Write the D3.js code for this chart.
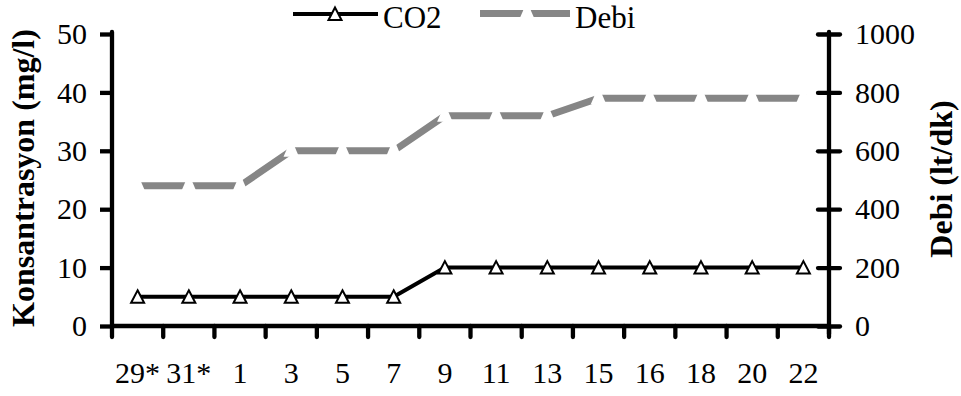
<!DOCTYPE html>
<html>
<head>
<meta charset="utf-8">
<script src="https://cdn.jsdelivr.net/npm/d3@7"></script>
<style>
  html, body { margin: 0; padding: 0; background: #fff; }
  svg { display: block; }
  text { font-family: "Liberation Serif", "Times New Roman", serif; fill: #000; }
</style>
</head>
<body>
<svg id="chart" width="961" height="396"></svg>
<script>
// Sampling days (x axis)
const days = ["29*", "31*", "1", "3", "5", "7", "9", "11", "13", "15", "16", "18", "20", "22"];
// CO2 concentration, mg/l (left axis)
const co2 = [5, 5, 5, 5, 5, 5, 10, 10, 10, 10, 10, 10, 10, 10];
// Flow rate, lt/dk (right axis)
const debi = [480, 480, 480, 600, 600, 600, 720, 720, 720, 780, 780, 780, 780, 780];
// Axis ticks
const leftTicks = [0, 10, 20, 30, 40, 50];
const rightTicks = [0, 200, 400, 600, 800, 1000];

const svg = d3.select("#chart");
const plotLeft = 112, plotRight = 829, plotTop = 34, plotBottom = 326;

const x = d3.scaleBand().domain(days).range([plotLeft, plotRight]).padding(0);
const yL = d3.scaleLinear().domain([0, 50]).range([plotBottom, plotTop]);
const yR = d3.scaleLinear().domain([0, 1000]).range([plotBottom, plotTop]);
const cx = d => x(d) + x.bandwidth() / 2;

const GRAY = "#868686";
const AXIS_W = 4.3;

// Upward triangle marker for CO2
const triPath = "M0,-6.5L6.5,6L-6.5,6Z";
// White knock-out triangle that opens gaps in the flow line at each point
const gapPath = "M0,-12L7.75,6L-7.75,6Z";

// ---- Flow (Debi) line ----
const lineR = d3.line().x((d, i) => cx(days[i])).y(d => yR(d));
svg.append("path")
  .datum(debi)
  .attr("d", lineR)
  .attr("fill", "none")
  .attr("stroke", GRAY)
  .attr("stroke-width", 7)
  .attr("stroke-linecap", "square")
  .attr("stroke-linejoin", "miter");
svg.append("g").selectAll("path")
  .data(debi)
  .join("path")
  .attr("transform", (d, i) => `translate(${cx(days[i])},${yR(d)})`)
  .attr("d", gapPath)
  .attr("fill", "#fff");

// ---- CO2 line ----
const lineL = d3.line().x((d, i) => cx(days[i])).y(d => yL(d));
svg.append("path")
  .datum(co2)
  .attr("d", lineL)
  .attr("fill", "none")
  .attr("stroke", "#000")
  .attr("stroke-width", 4)
  .attr("stroke-linejoin", "round");
svg.append("g").selectAll("path")
  .data(co2)
  .join("path")
  .attr("transform", (d, i) => `translate(${cx(days[i])},${yL(d)})`)
  .attr("d", triPath)
  .attr("fill", "#fff")
  .attr("stroke", "#000")
  .attr("stroke-width", 2);

// ---- Axes ----
function styleAxis(g) {
  g.select(".domain").remove();
  g.selectAll(".tick line").attr("stroke", "#000").attr("stroke-width", AXIS_W);
  g.selectAll("text").style("font-size", "30px").attr("fill", "#000");
}

// Left axis
const gL = svg.append("g").attr("transform", `translate(${plotLeft},0)`)
  .call(d3.axisLeft(yL).tickValues(leftTicks).tickSize(12).tickPadding(13).tickFormat(d3.format("d")))
  .call(styleAxis);
gL.append("line").attr("x1", 0).attr("x2", 0).attr("y1", plotTop - 2).attr("y2", plotBottom + 2)
  .attr("stroke", "#000").attr("stroke-width", AXIS_W).attr("stroke-linecap", "round");

// Right axis (ticks cross the axis line)
const gR = svg.append("g").attr("transform", `translate(${plotRight},0)`)
  .call(d3.axisRight(yR).tickValues(rightTicks).tickSize(11).tickPadding(15).tickFormat(d3.format("d")))
  .call(styleAxis);
gR.selectAll(".tick line").attr("x1", -11).attr("stroke-linecap", "round");
gR.append("line").attr("x1", 0).attr("x2", 0).attr("y1", plotTop - 2).attr("y2", plotBottom + 8)
  .attr("stroke", "#000").attr("stroke-width", AXIS_W).attr("stroke-linecap", "round");

// Bottom axis: labels centred in each band, ticks on band boundaries
const gB = svg.append("g").attr("transform", `translate(0,${plotBottom})`)
  .call(d3.axisBottom(x).tickSize(0).tickPadding(0))
  .call(styleAxis);
gB.selectAll(".tick text").attr("y", 57).attr("dy", 0);
gB.append("line").attr("x1", plotLeft).attr("x2", plotRight).attr("y1", 0).attr("y2", 0)
  .attr("stroke", "#000").attr("stroke-width", AXIS_W);
const bounds = d3.range(days.length + 1).map(i => x.range()[0] + i * x.step());
gB.selectAll(".bound")
  .data(bounds)
  .join("line")
  .attr("class", "bound")
  .attr("x1", d => d).attr("x2", d => d)
  .attr("y1", 0).attr("y2", 11)
  .attr("stroke", "#000").attr("stroke-width", AXIS_W).attr("stroke-linecap", "round");

// ---- Axis titles ----
svg.append("text")
  .attr("transform", "translate(34,178) rotate(-90)")
  .attr("text-anchor", "middle")
  .style("font-size", "32px").style("font-weight", "bold")
  .text("Konsantrasyon (mg/l)");
svg.append("text")
  .attr("transform", "translate(952,179) rotate(-90)")
  .attr("text-anchor", "middle")
  .style("font-size", "32px").style("font-weight", "bold")
  .text("Debi (lt/dk)");

// ---- Legend ----
const lg = svg.append("g");
lg.append("line").attr("x1", 293).attr("x2", 378).attr("y1", 14).attr("y2", 14)
  .attr("stroke", "#000").attr("stroke-width", 4);
lg.append("path").attr("transform", "translate(335,14)").attr("d", triPath)
  .attr("fill", "#fff").attr("stroke", "#000").attr("stroke-width", 2);
lg.append("text").attr("x", 383).attr("y", 28).style("font-size", "31px").text("CO2");

lg.append("line").attr("x1", 480).attr("x2", 570).attr("y1", 13.5).attr("y2", 13.5)
  .attr("stroke", GRAY).attr("stroke-width", 7);
lg.append("path").attr("transform", "translate(527,13.5)").attr("d", gapPath)
  .attr("fill", "#fff");
lg.append("text").attr("x", 575).attr("y", 28).style("font-size", "31px").text("Debi");
</script>
</body>
</html>
